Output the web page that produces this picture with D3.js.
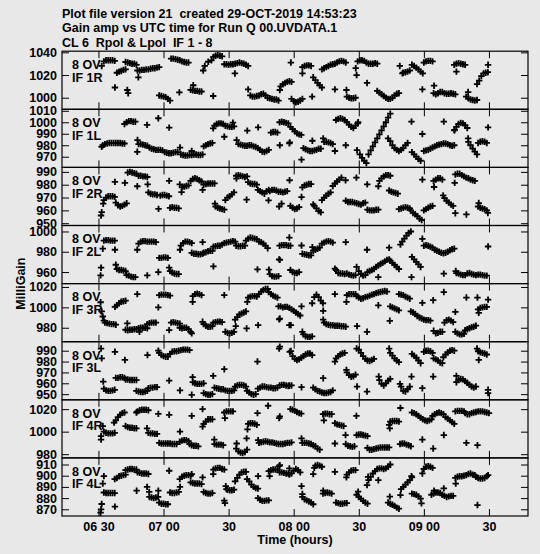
<!DOCTYPE html>
<html>
<head>
<meta charset="utf-8">
<script src="https://cdn.jsdelivr.net/npm/d3@7"></script>
<style>
  body { margin: 0; background: #e8e8e8; }
  svg { display: block; }
  text { font-family: "Liberation Sans", Arial, sans-serif; font-weight: bold; font-size: 12.5px; fill: #000; white-space: pre; }
</style>
</head>
<body>
<svg id="chart"></svg>
<script>
const titleLines = [
  'Plot file version 21  created 29-OCT-2019 14:53:23',
  'Gain amp vs UTC time for Run Q 00.UVDATA.1',
  'CL 6  Rpol & Lpol  IF 1 - 8'
];
const antenna = '8 OV';
const panelNames = ['IF 1R', 'IF 1L', 'IF 2R', 'IF 2L', 'IF 3R', 'IF 3L', 'IF 4R', 'IF 4L'];
// time in minutes after 06:00 UT
const timeDomain = [13.2, 228];
const timeTicks = [30, 60, 90, 120, 150, 180, 210];
const timeTickLabels = ['06 30', '07 00', '30', '08 00', '30', '09 00', '30'];
const yDomains = [[989.8, 1041], [960.7, 1011.3], [948.2, 993.5], [948.6, 1005.9],
                  [966.3, 1023.3], [944.8, 998.3], [976.7, 1028.3], [864, 915.9]];
const yTicks = [[1000, 1020, 1040], [970, 980, 990, 1000, 1010], [950, 960, 970, 980, 990],
                [960, 980, 1000], [980, 1000, 1020], [950, 960, 970, 980, 990],
                [980, 1000, 1020], [870, 880, 890, 900, 910]];

// [minutes after 06:00, milli gain]
const if1R = [
  [31.5,1028],[32.5,1032],[33.5,1033],[34.5,1033],[35.5,1033],[36.5,1033],[37.5,1032.5],[37.6,1009],
  [38.5,1022],[39.5,1023],[40.5,1023.5],[41.5,1024.5],[42.5,1025],
  [42.5,1031.5],[43.5,1031],[44.5,1030.5],[45.5,1030],[46.5,1030],[47.5,1029],[43.3,1006.8],[43.7,1004],
  [48,1024],[49,1024],[50,1024.5],[51,1024.5],[52,1025],[53,1025],[48.4,1018],
  [54,1025.5],[55,1026],[56,1026],[57,1026.5],[58,1027],
  [58,1002],[59,1001.5],[60,1001],[61,1000.5],[62,999],[63,997.5],[67.3,1004.7],
  [63.5,1034.5],[64.5,1034.5],[65.5,1034],[66.5,1033.5],[67.5,1033],[68.5,1032],[69.5,1031.5],[70.5,1031],[71.5,1031],
  [73.7,1011],[72.5,1007],[73.5,1006.5],[74.5,1006],[75.5,1006],[76.5,1005.5],[77.5,1005.5],[82.9,1001.5],
  [78.3,1024],[79,1028],[80.6,1031.7],[82.1,1033],[83,1036],[84,1037],[85,1037.5],[86,1037],[87,1036.5],
  [88,1029.5],[89,1029.5],[90,1029],[91,1029.5],[92,1029.5],[93,1030],[94,1030.5],[95,1031],[96,1030.5],[97,1030],[98,1029],[99,1028],
  [92.9,1021.4],[99,1007.4],
  [100,1002],[101,1001],[102,1001],[103,1001.5],[104,1002],[105,1003],[106,1003.5],[107,1002],
  [108,1000],[109,999.5],[110,999],[111,998.5],[112,998.5],[113,997.5],
  [113.6,1006.8],[114,1010],[115,1012],[116,1013],[117,1014],[118,1014.5],[119,1014],
  [119,999],[120,997],[121,996],[122,996.5],[123,997.5],[124,999],[118.7,1031],
  [124,1027],[125,1028],[126,1028.5],[127,1028.5],[128,1028],[124,1021.5],[128.5,1001],
  [129,1018],[130,1015.5],[131,1013],[132,1011],[133,1009],
  [133,1025],[134,1026],[135,1027],[136,1028],[137,1029],[138,1029.5],[139,1030],[140,1031],[141,1032],[142,1032.5],[143,1032],[144,1031],
  [139,1007.4],[144.3,1006.8],[144.5,1001],[145.5,1000],[146.5,999.5],[147.5,999.5],[148.5,1000],[148.6,1026],[149,1020],
  [149.5,1032],[150.5,1033],[151.5,1033],[152.5,1032.5],[153.5,1031],[154.5,1030],[155.5,1030],[156.5,1030],[157.5,1030.5],[158.5,1030],
  [153.8,1013],
  [158.5,1006],[159.5,1004.5],[160.5,1003],[161.5,1001.5],[162.5,1000],[163.5,999],[164.5,999],[165.5,1000],[166.5,1002],[167.5,1003.5],[168.5,1004],
  [168.9,1028],[170.1,1021.5],[170.5,1022],[171.5,1022.5],[172.5,1023],[173.5,1024],
  [174.5,1029],[175.5,1028],[176.5,1026.5],[177.5,1025],[178.5,1023],[179.5,1021.5],
  [180,1031],[181,1032],[182,1032.5],[183,1032.5],[184,1032],[179.3,1007.4],
  [184.7,1010.6],[184.5,1004],[185.5,1003],[186.5,1004],[187.5,1005],[188.5,1005],[189.5,1004],[190.5,1003.5],[191.5,1003.5],[192.5,1004],[193.5,1003.5],[194.5,1003],
  [194,1029],[195,1030],[196,1030.5],[197,1030],[198,1029.5],[199,1029],[195,1023],
  [200.4,1005],[199.5,1001],[200.5,999.5],[201.5,998.5],[202.5,998],[203.5,997.5],[204.5,998],
  [204.5,1012],[205.5,1015],[206.5,1019],[207.5,1021.5],[208.5,1022],[209.5,1022.5],[209.6,1029]
];
const if1L = [
  [31.5,978.7],[32,980],[33,981],[34,981.5],[35,982],[36,982],[37,982],[38,982],[39,982],[40,982],[41,981.5],[42,981.5],
  [42,998.5],[43,1000],[44,1001],[45,1001],[46,1000.5],[47,1000.5],[48,984.5],[47.9,974.3],
  [48.5,981],[49.5,981],[50.5,980.5],[51.5,980],[52.5,979.5],
  [53.5,978],[54.5,977],[55.5,976.5],[56.5,976],[57.5,976],[58.5,976],[59.5,975.5],
  [52.4,997.7],[57.6,1003.5],[62.6,995.3],
  [60.5,974],[61.5,973.5],[62.5,973],[63.5,973],[64.5,973.5],[65.5,974],[66.5,974],[67.6,978],
  [68,972],[69,971.5],[70,971],[71,971],[72,971.5],[73,971.5],[74,972],[75,972],[76,971.5],[77,971.5],[78,972],[73,975],
  [78.5,979],[79.5,980],[80.5,981],[81.5,981.5],[82.5,982],
  [82.9,994.7],[83.5,997],[84.5,998.5],[85.5,999],[86.5,999],[87.5,998.5],
  [88.5,997],[89.5,996.5],[90.5,996],[91.5,996],[92.5,996.5],[92,999.7],[88,987.4],
  [93.7,984.5],[94.5,981],[95.5,980.5],[96.5,980],[97.5,979.5],[98.5,979.5],[99.5,980],[100.5,980],
  [101.5,979],[102.5,978.5],[103.5,977.5],[104.5,976],[105.5,974.5],[106.5,974],[107.5,975],[108.5,976],
  [98.6,992.7],[103.6,995.6],
  [109.5,991],[110.5,991.5],[111.5,991.5],[112.5,991],[113.6,980],
  [113.5,1000],[114.5,1000.5],[115.5,1000],[116.5,999.5],[117.5,999],[118,981.6],
  [118.5,996],[119.5,994],[120.5,992],[121.5,990.5],[122.5,989.5],[123.5,989],[118.2,982.5],[123.6,967.5],
  [124.5,977.5],[125.5,976.5],[126.5,975.5],[127.5,975],[128.5,975],[129.5,975.5],[130.5,976],[131.5,977],[132.5,977],
  [128.6,983.9],[133.6,986],
  [134,983],[135,983],[136,982.5],[137,982],[138,981],[139,975],[144,980],
  [139.5,1002],[140.5,1003],[141.5,1003.5],[142.5,1003],[143.5,1002],[144.5,1000],[145.5,998],[146.5,996],[147.5,995],[148.5,997],[149.5,999],[149.7,1000],
  [149.2,975.7],[150.5,972],[151.5,969],[152.5,966.5],[153.5,964.5],
  [154.5,972],[155.5,975.5],[156.5,979],[157.5,982.5],[158.5,986],[159.5,989.5],[160.5,993],[161.5,996.5],[162.5,1000],[163.5,1004],[164.5,1007.5],
  [163.5,986],[164.5,983.5],[165.5,980],[166.5,977.5],[167.5,976],[168.5,975],[169.5,976],[170.5,977.5],[171.5,980],[172.5,982],
  [174.3,1000.6],[179.3,989.8],
  [174.5,974],[175.5,972],[176.5,970],[177.5,968],[178.5,966.5],
  [180,975],[181,975.5],[182,976],[183,977],[184,978],[185,979],[186,980],[187,980.5],[188,981],[189,981.5],[190,981.5],[191,981],[192,980],[193,979.5],[194,980],
  [189.2,1000.6],[194.2,993.3],
  [194,993],[195,996],[196,998.5],[197,999.5],[198,999],[199,997.5],[200,995],
  [200.4,986],[200.5,983],[201.5,980],[202.5,977],[203.5,974.5],[204.5,972],
  [205,982],[206,983],[207,983.5],[208,983],[209,982],[209.6,995.6]
];
const if2R = [
  [31.2,956],[31.5,958.6],[32.2,965.2],
  [32.5,968],[33.5,970],[34.5,971],[35.5,971],[36.5,971],[37.5,970.5],
  [38,966],[39,964],[40,963],[41,963.5],[42,964.5],[43,965.5],[37.6,982.2],[42.2,981.4],
  [43.5,989.5],[44.5,990],[45.5,989.5],[46.5,989],[47.5,988.5],[47.9,978.8],
  [48.5,987],[49.5,987],[50.5,986.5],[51.5,986.5],[52.5,986],[52.7,980.3],
  [53,974],[54,973],[55,972.5],[56,972.5],[57,972],[57.7,961.2],
  [58.5,971.5],[59.5,972],[60.5,972],[61.5,971.5],[62.5,971],[62.6,983],
  [63,962],[64,962.5],[65,962],[66,962],[67,961.5],
  [68.3,974.3],[67.5,980.3],[68.5,978],[69.5,978.5],[70.5,979],[71.5,979.5],
  [72.5,983],[73.5,984.5],[74.5,985],[75.5,984.5],[76.5,983.5],[77.5,982.5],
  [78.5,980],[79.5,980.5],[80.5,981],[81.5,981],[82.5,981],[83.5,981],[78,976],
  [83.7,965.2],[84,963],[85,962],[86,961.5],[87,961],[88,960.5],
  [88.5,968],[89.5,970],[90.5,971],[91.5,972.5],[92.5,974],
  [93.6,984.8],[93.5,987],[94.5,987.5],[95.5,987],[96.5,986.5],[97.5,986],[98.5,986.5],[98.3,968.3],
  [99,982],[100,981],[101,980.5],[102,980.5],[103,980],
  [103.5,976],[104.5,975],[105.5,974],[106.5,973],[107.5,975],[108.5,976],[108.4,967.8],[113.3,963],
  [109,975],[110,976],[111,976],[112,975.5],[113,974.5],[114,974.5],[115,974],[116,974.5],[117,975],
  [118.1,983.5],[114.4,965.2],
  [118.5,963.5],[119.5,962],[120.5,961],[121.5,961.5],[122.5,962.5],
  [123.6,970.4],[124,978],[125,979.5],[126,980],[127,980.5],[128,980.5],
  [129,964.6],[129.5,963.5],[130.5,961.5],[131.5,959.5],[132.5,958.5],
  [133,968],[134,970],[135,971.5],[136,973],[137,974],
  [138,979],[139,981],[140,982.5],[141,984],[142,985.5],[143.9,983.5],[148.9,985.5],
  [144,967.5],[145,966.5],[146,966.5],[147,966.5],[148,966],[149,965.5],[150,965],[151,964.5],[152,965.5],[153,966],
  [153.9,980.3],
  [154,960.5],[155,960],[156,960],[157,960],[158,960.5],[159,960.5],[159,978.8],
  [159.5,983],[160.5,985],[161.5,986.5],[162.5,987.5],[163.5,987.5],[164.5,987],
  [164,975.5],[165,974.5],[166,974],[167,973.5],[168,973],
  [168.5,961],[169.5,961.5],[170.5,962],[171.5,962.5],[172.5,962],[173.5,961.5],
  [174,960],[175,958],[176,957],[177,955.5],[178,953.5],[179,952.5],[179.3,984],
  [180,960],[181,961],[182,962],[183,963],[184,963.5],
  [184.7,978.2],[184.5,983],[185.5,984],[186.5,985],[187.5,985],[188.5,984],
  [188.9,971.7],[189.5,969.5],[190.5,967.5],[191.5,966],[192.5,964.5],[193.5,963.5],
  [194.5,957.8],[199.6,956.8],[194.2,981.4],
  [194.5,988],[195.5,988.5],[196.5,988.5],[197.5,987.5],[198.5,986.5],[199.5,985.5],[200.5,985],[201.5,984],[202.5,983.5],[203.5,983],
  [205.3,965.7],[205,963],[206,962],[207,961.5],[208,961],[209,960],[209.5,958]
];
const if2L = [
  [31.2,964.3],[31,956.7],[32,983],
  [32.5,991],[33.5,991.5],[34.5,991.5],[35.5,991],[36.5,991],[37.5,991],[37.6,982],[38,967.2],
  [38.5,963],[39.5,962],[40.5,962],[41.5,961.5],[42.5,961],
  [43,957],[44,956.5],[45,955.5],[46,955],[47,955],[47.9,982],
  [48.5,988],[49.5,990],[50.5,990.5],[51.5,990.5],[52.5,990],[53.5,990],[54.5,990],[55.5,990],[56.5,989.5],[52.5,956.7],
  [58,974],[59,974],[60,974.5],[61,974.5],[62,974],[57.6,960],[62.6,964.3],
  [63,961],[64,959.5],[65,958.5],[66,958],[67,958],[67.6,982],
  [68,986],[69,988.5],[70,990],[71,990],[72,989.5],[73,988.5],[78,989.5],
  [73,979],[74,978],[75,978],[76,977.5],[77,977.5],[78,978],[83,965.6],
  [78.5,979],[79.5,979.5],[80.5,980.5],[81.5,981],[82.5,981],
  [83,985],[84,985.5],[85,986],[86,986],[87,987],
  [88,988.5],[89,989],[90,989.5],[91,990],[92,990.5],[93,990],
  [93.5,986],[94.5,985.5],[95.5,985.5],[96.5,986],[97.5,986],
  [98,991],[99,993],[100,994],[101,993.5],[102,993],[103,992.5],[103.3,962.6],
  [104,990],[105,989.5],[106,988],[107,986],[108,983.5],[108.6,962.3],[113.3,972.5],
  [109,958],[110,956],[111,955.5],[112,955.5],[113,956],
  [113.5,986],[114.5,986.5],[115.5,986.5],[116.5,986.5],[117.5,986],[118.5,986],[118,994],[113.6,972],
  [118.5,962],[119.5,960],[120.5,959],[121.5,959],[122.5,960],[123.6,986.2],
  [124,978],[125,977.5],[126,977],[127,976.5],[128,976.5],[128.6,984.6],
  [129,981],[130,982],[131,983],[132,984],
  [133,988],[134,989],[135,990],[136,990.5],[137,990],[138,989],[144,989.5],
  [139,963.3],[139.5,962],[140.5,959],[141.5,958.5],[142.5,958.5],[143.5,958],[144.5,958.5],[145.5,957.5],[146.5,957],[147.5,956.5],[148.5,957],
  [153.8,982],[159,955],
  [149,965],[150,961],[151,958],[152,956.5],[153,957],[154,960],[155,961],[156,962],[157,963],[158,965],[159,966.5],[160,968],[161,969],[162,970.5],[163,972],[164,972.5],
  [164,984],
  [164.5,971],[165.5,969],[166.5,967],[167.5,965],[168.5,963],
  [169.2,987],[170,990],[171,993],[172,996],[173,998.5],[174,1000],[174.3,955],
  [174.5,975],[175.5,972.5],[176.5,970],[177.5,967.5],[178.5,965],[179.3,992.8],
  [180,986],[181,986.5],[182,986],[183,985],[184,984],[185,982],[186,981],[187,980],[188,979],[189,978.5],[190,979],[191,980],[192,981.5],[193,982.5],[194,983],
  [189.2,958.4],[194.7,961],
  [195,959],[196,958.5],[197,957.5],[198,957],[199,957],[200,958.5],[201,959],[202,958],[203,957.5],[204,957],[205,957.5],[206,957.5],[207,957],[208,956.5],[209,956.5],
  [209.6,985.2]
];
const if3R = [
  [31,1005],[31.5,996],[32,991],[32.5,987],[33,985],[34,984.5],[35,984],[36,983.5],[37,983.5],[38,983],
  [37.6,1000.5],[38.5,1002],[39.5,1004],[40.5,1005.5],[41.5,1006],[42.5,1006.5],[43.3,984.2],
  [42.5,978],[43.5,977.5],[44.5,978],[45.5,978],[46.5,978.5],[47.5,978.5],[47.9,1013],
  [48.5,979.5],[49.5,980],[50.5,980],[51.5,980],[52.5,979.5],[48.9,976],
  [52.5,983.5],[53.5,984.5],[54.5,985],[55.5,985],[56.5,985],[57.6,1000],
  [58,1012],[59,1012.5],[60,1012.5],[61,1012.5],[62,1012],[63,1011.5],[62.6,977.7],
  [63.5,985],[64.5,985.5],[65.5,985],[66.5,984.5],[67.5,984],
  [67.5,980],[68.5,979.5],[69.5,980],[70.5,980],[71.5,978.5],[72.5,976],[73,974.5],
  [73.4,1005.4],[73.5,1011],[74.5,1013],[75.5,1013.5],[76.5,1013],[77.5,1012],[78,985.8],
  [78.5,983.5],[79.5,982],[80.5,981],[81.5,981],[82.5,981.5],
  [83,985],[84,985.5],[85,986],[86,986],[87,985.5],[88,1012],
  [88.5,976],[89.5,975],[90.5,974.5],[91.5,975],[92.5,976],
  [93.3,981.6],[93,988],[94,990.5],[95,993],[96,994],[97,995],[98,996],[98.3,979.3],
  [98.6,1005.4],[99,1009.5],[100,1010.5],[101,1011],[102,1011],[103,1010.5],[103.6,982.6],
  [104,1013],[105,1015.5],[106,1017],[107,1018],[108,1018],
  [108.5,1015],[109.5,1013],[110.5,1011.5],[111.5,1010.5],[112.5,1009.5],[113.3,988.2],
  [113,1001],[114,1001],[115,1000],[116,1000.5],[117,1000.5],[118,999.5],[118,982.6],[113.6,989],
  [119,998],[120,996.5],[121,995],[122,993.5],[123,992],[118.7,982.6],[123.6,1001],[124,976],
  [124.5,973.5],[125.5,971.5],[126.5,971],[127.5,971],[128.5,971.5],
  [128.5,1004],[129.5,1010],[130.5,1012.5],[131.5,1010],[132.5,1006.5],[133.5,1004],
  [133.6,996.6],[133.6,988],
  [134,985],[135,983.5],[136,983],[137,982.5],[138,982.5],[139,982],[140,982],[141,982],[142,981.5],[143,981.5],[144,981],
  [139,1013],[149.2,981.6],[153.8,976],
  [144.3,1005.4],[144.5,1012],[145.5,1013],[146.5,1013],[147.5,1013],[148.5,1013],
  [149,1011],[150,1009.5],[151,1008.5],[152,1009],[153,1010],[154,1010.5],[155,1011.5],[156,1012.5],[157,1013],[158,1014],[159,1014.5],[160,1015],[161,1015.5],[162,1016],[163,1015.5],
  [159,1002],[164.3,986.8],
  [164.5,1001],[165.5,1000],[166.5,999],[167.5,998],[168.5,997],
  [168.5,1013],[169.5,1012.5],[170.5,1012],[171.5,1010.5],[172.5,1009.5],[173.5,1008.5],
  [179.3,1004.4],[184.3,1007],
  [174,996],[175,995],[176,993.5],[177,991.5],[178,990],[179,989],[180,988],[181,987.5],[182,987.5],[183,987],
  [189.2,1015],
  [184.5,977],[185.5,974.5],[186.5,975],[187.5,976],[188.5,976],
  [189.5,985],[190.5,987.5],[191.5,988],[192.5,987],[193.5,985.5],
  [194.5,995.6],[199.6,1009.6],[204.7,1009.6],[209.6,1007.6],
  [194.5,976],[195.5,974.5],[196.5,973.5],[197.5,973.5],[198.5,974],
  [199,977.5],[200,978.5],[201,979.5],[202,980.5],[203,981],[204,982],
  [205.3,994.6],[205,998],[206,999.5],[207,1000],[208,1000.5],[209,1000.5]
];
const if3L = [
  [31.2,992],[31.5,983],[32.2,961.6],
  [32.5,955],[33.5,953.5],[34.5,953],[35.5,953],[36.5,953.5],[37.5,954],[37.6,989],[42.2,981.5],
  [38,965],[39,965],[40,965.5],[41,965.5],[42,965],
  [42.5,963.5],[43.5,963.5],[44.5,963],[45.5,963],[46.5,963],[47.5,963],[52.6,986],
  [47.5,953],[48.5,952.5],[49.5,952],[50.5,952],[51.5,952.5],[52.5,953],
  [53,955.5],[54,956],[55,956],[56,956.5],[57,956.5],[57.6,990],
  [58,988],[59,986],[60,985],[61,984.5],[62,984.5],[62.6,962.5],
  [63,987],[64,989],[65,989.5],[66,989.5],[67,990],[68,990.5],[69,991],[70,991],[71,991],[72,990.5],
  [67.6,953.4],[73.4,965.6],[73,949.4],
  [73.5,961],[74.5,960],[75.5,959.5],[76.5,959.5],[77.5,959.5],[78.5,960],
  [78.5,951],[79.5,950],[80.5,949.5],[81.5,949.5],[82.5,950],[82.9,966.8],[88,973],
  [83.5,956],[84.5,955.5],[85.5,955],[86.5,954.5],[87.5,954.5],
  [88.5,953.5],[89.5,953],[90.5,953],[91.5,953],[92.5,953.5],
  [93,957],[94,958],[95,958.5],[96,958.5],[97,958],[98,957],[103.3,980],
  [98.5,953],[99.5,951.5],[100.5,950],[101.5,949.5],[102.5,950],
  [103.5,955],[104.5,956],[105.5,957],[106.5,957],[107.5,956.5],[108.5,956],[109.5,956],[110.5,955.5],[111.5,955.5],[112.5,956],
  [113.3,992],[118.2,989],
  [113.5,958],[114.5,958.5],[115.5,958.5],[116.5,958],[117.5,957.5],[118,958],[119,958],
  [113.6,993.7],[118.7,989.7],
  [119.5,985],[120.5,982.5],[121.5,981.5],[122.5,982],[123.5,983.5],[124.5,985],[125.5,986.5],[126.5,987.5],[127.5,987.5],[128.5,986],
  [123.6,956.4],[133.6,964.7],
  [129,956],[130,954.5],[131,953],[132,952.5],[133,951.5],[134,951],[135,951],[136,951.5],[137,952],[138,953.5],
  [139,980],[139.5,983],[140.5,985],[141.5,986.5],[142.5,987.5],[143.5,988],
  [144.3,972.3],[144.5,970],[145.5,967.5],[146.5,966],[147.5,966.5],[148.5,968],
  [149.2,957],[153.8,952.4],
  [149,992],[150,991],[151,988],[152,985],[153,982.5],[154,981],[155,980.5],[156,981.5],[157,982.5],
  [159.2,966.2],[159.5,963],[160.5,959.5],[161.5,958],[162.5,960],[163.5,962.5],[164.5,964],
  [164,992],[164.5,988],[165.5,985.5],[166.5,983],[167.5,981],[168.5,979.5],
  [169,959.5],[169.5,957],[170.5,953],[171.5,952.5],[172.5,954.5],[173.5,957],[174.3,966.2],
  [174.5,987],[175.5,985.5],[176.5,983.5],[177.5,981],[178.5,978.5],[179.3,955.5],
  [180,989],[181,990],[182,990],[183,989.5],[184,988],[184.3,966.2],
  [184.5,983],[185.5,982],[186.5,981],[187.5,979],[188.5,978.5],
  [189,984],[190,986.5],[191,988.5],[192,990],[193,990.5],[194,990],
  [195,966.8],[195,961],[196,963],[197,964],[198,963.5],[199,962],[200,960.5],[201,958.5],[202,957],[203,956],[204,957],
  [204.5,992],[205,989.5],[206,988.5],[207,988],[208,987.5],[209,986.5],[205.3,981.5],
  [209.6,954],[209.6,951]
];
const if4R = [
  [31.2,993],[31.2,996],[32,1005],
  [32.5,1000],[33.5,999],[34.5,998.5],[35.5,998.5],[36.5,998.5],[37.5,999],[37.2,1008],
  [38,1010],[39,1013],[40,1015],[41,1016.5],[42,1017],
  [42.5,1005],[43.5,1004],[44.5,1003.5],[45.5,1003.5],[46.5,1003],[47.5,1003],
  [47.5,1017],[48,1018],[49,1019],[50,1019.5],[51,1019.5],[52,1019.5],[53,1019],[52.4,1003],
  [53,999],[54,998.5],[55,998.5],[56,998],[57,998],[57.6,1015.8],[62.6,1015],
  [58,990],[59,989.5],[60,989.5],[61,989.5],[62,989.5],[63,989.5],[64,989],[65,989],[66,989],[67.6,1000],
  [67.5,991],[68.5,992],[69.5,992.5],[70.5,992.5],[71.5,991.5],
  [72,989],[73,988],[74,987.5],[75,987.5],[76,987],[73,1014],[78,1020],
  [78,1004.5],[78.5,1007],[79.5,1009],[80.5,1011],[81.5,1011],[82.5,1011],[83.4,993],
  [83.5,989],[84.5,988.5],[85.5,988.5],[86.5,988.5],[87.5,988],
  [88.3,1012],[88,1017],[89,1018],[90,1018],[91,1018],[92,1018],[93.7,989.5],
  [93.5,985],[94.5,982.5],[95.5,981.5],[96.5,981],[97.5,982],[98.5,984],[98.3,994],
  [98.7,1002],[99,1007],[100,1007.5],[101,1007.5],[102,1007],[103,1006],[103.3,1016.5],[103.6,992.5],
  [104,990],[105,990.5],[106,991],[107,991.5],[108,991],[109,990.5],[110,990.5],[111,990],[112,989.5],[113,989],[114,989],[115,989],[116,989.5],[117,990],[118,990],[119,990.5],
  [108.2,1023],[113.3,1012],[113.6,1013.5],
  [118.5,1020],[119.5,1019.5],[120.5,1018.5],[121.5,1017.5],[122.5,1016.5],[123.5,1016],[123.6,994],
  [124,990],[125,990],[126,990],[127,989.5],[128,989],[129,988],[130,987],[131,985],[132,984],
  [133.9,1010],[133.5,1015.5],[134.5,1016],[135.5,1016],[136.5,1015.5],[137.5,1015.5],
  [139,1007.5],[140,1006.5],[141,1006],[142,1005.5],[143,1005],[139,989.5],[143.9,997],
  [144,989],[145,987.5],[146,987],[147,986.5],[148,987],[148.9,1014],
  [149,997],[150,997.5],[151,997.5],[152,997],[153,996.5],[154,996],
  [154,985.5],[155,984],[156,984],[157,984.5],[158,985],[159,985.5],[160,986],[161,986],[162,986],[163,986],[164,986],
  [164,1006],[164.3,1003],[164.5,1009],[165.5,1009.5],[166.5,1009.5],[167.5,1009.5],[168.5,1009],[169.2,1021],
  [169,989],[170,989.5],[171,989.5],[172,988.5],[173,988],[174,987],[179.3,993],[184.3,985],
  [174.5,1017],[175.5,1016.5],[176.5,1015.5],[177.5,1014],[178.5,1012.5],[179.5,1011],[180.5,1010],[181.5,1009.5],[182.5,1010],[183.5,1011],
  [184,1014],[185,1015.5],[186,1016.5],[187,1017],[188,1016.5],[189,1015.5],[189.2,997],
  [190,1013],[191,1011.5],[192,1010],[193,1008.5],[194,1007],
  [194.5,1018],[195.5,1018.5],[196.5,1018.5],[197.5,1018.5],[198.5,1018],[199.6,990],
  [199,1016.5],[200,1015.5],[201,1015.5],[202,1016.5],[203,1017],[204,1017.5],[205,1018],[206,1018],[207,1018],[208,1017.5],[209,1017],[210,1016.5],
  [204.7,988]
];
const if4L = [
  [31,867],[31.2,870],[31.5,874.7],[32.5,899.6],[32,893],
  [32.5,885],[33.5,884.5],[34.5,884.5],[35.5,884.5],[36.5,884.5],[37.5,884.5],[37.6,872.4],
  [37.5,897],[38.5,898],[39.5,899.5],[40.5,900],[41.5,900.5],[42.5,901],
  [42.5,905],[43.5,905.5],[44.5,906],[45.5,906],[46.5,905.5],[47.5,905.5],[47.6,886.6],
  [48,903],[49,902.5],[50,902],[51,902],[52,902],[53,901.5],
  [52.4,890],[53.4,885.5],[57.6,886.6],
  [53.5,881],[54.5,880.5],[55.5,880],[56.5,880.5],[57.5,881],
  [58,876],[59,875],[60,875],[61,874.5],[62,874.5],[62.6,904.4],[67.6,890],
  [63,885],[64,884.5],[65,884.5],[66,885],[67,885.5],
  [67.5,897],[68.5,899],[69.5,900],[70.5,900.5],[71.5,900.5],[72.5,900],[73,901.4],[78,898.5],
  [72.5,894],[73.5,893.5],[74.5,893],[75.5,893],[76.5,893],[77.5,892.5],
  [78.5,885.5],[79.5,884.5],[80.5,884],[81.5,884],[82.5,884.5],
  [82.9,901.4],[83,905.5],[84,906.5],[85,907],[86,907],[87,906],[88,905.5],
  [88,877.7],[88.3,875.5],[88.7,890.7],
  [89,888],[89.5,887.5],[90.5,887],[91.5,887],[92.5,887.5],
  [93,895],[94,898],[95,901],[96,903],[97,903.5],[98,903.5],
  [98.5,897],[99.5,895],[100.5,892],[101.5,890],[102.5,889],[103.5,888.5],
  [103.6,899.6],[108.9,899.6],
  [103.5,880],[104.5,878.5],[105.5,877.5],[106.5,877.5],[107.5,878],[108.5,878],
  [108.5,904],[109.5,905],[110.5,905.5],[111.5,905.5],[112.5,905.5],[113.3,908.5],[118,906.5],
  [113.5,903],[114.5,903],[115.5,902.5],[116.5,902],[117.5,902],[113.6,909.4],
  [118,901],[119,902],[120,904.5],[121,906],[122,905],[123,903],
  [123.6,890.7],[124,883.6],
  [124,881],[125,879],[126,878],[127,877],[128,876],[129,874.5],
  [129,901.4],[129.5,907],[130,909],[131,909.5],[132,909],[133,908],[133.6,886.6],
  [133.5,884],[134.5,884.5],[135.5,885],[136.5,884.5],[137.5,884],[139,903.5],
  [139.5,876],[140.5,875.5],[141.5,875],[142.5,875],[143.5,875.5],[144.5,875.5],
  [144.3,898.5],[144.5,901],[145.5,903],[146.5,904.5],[147.5,905],[148.5,905],[149.7,885.7],
  [149,883],[150,881],[151,879.5],[152,877.5],[153,876],[154,875],
  [153.8,891.6],[154.3,899],
  [154.5,896],[155.5,899],[156.5,902],[157.5,904],[158.5,906],[159.5,906.5],[160.5,906.5],[161.5,906],[162.5,906.5],[163.5,908],[164.5,910],
  [159,896],[164.3,881.3],
  [163.5,876],[164.5,875],[165.5,874],[166.5,873],[167.5,871.5],[168.5,870.5],[169.2,882.7],
  [169.5,888],[170.5,890],[171.5,892],[172.5,894],[173.5,896],[174.5,898.5],[174.3,899.6],
  [174.5,884],[175.5,883.5],[176.5,883],[177.5,881.5],[178.5,879.5],[178.9,875.3],
  [179.3,902],[180,906],[181,908],[182,908.5],[183,908],[184,907],
  [184.7,886.6],[189.2,888.7],
  [183.5,883],[184.5,884],[185.5,885],[186.5,885],[187.5,884.5],[188.5,883],[189.5,882],[190.5,881],[191.5,881.5],[192.5,882],[193.5,882],
  [194.7,893],[194.5,898],[195.5,899],[196.5,899.5],[197.5,899.5],[198.5,900],[199.5,900.5],[200.5,901.5],[201.5,902],[202.5,901],[203.5,900.5],
  [204,899],[205,898],[206,897.5],[207,897.5],[208,898],[209,899.5],[209.6,900.5],
  [204.7,873.8]
];
const panelData = [if1R, if1L, if2R, if2L, if3R, if3L, if4R, if4L];

const W = 540, H = 554;
const left = 62, right = 528, top0 = 51.2, ph = 58.1;

const svg = d3.select('#chart').attr('width', W).attr('height', H);

svg.selectAll('text.title')
  .data(titleLines)
  .join('text')
  .attr('class', 'title')
  .attr('x', left)
  .attr('y', (d, i) => 18 + i * 14.3)
  .text(d => d);

const x = d3.scaleLinear().domain(timeDomain).range([left, right]);
const plus = 'M-3.2,0H3.2M0,-3.2V3.2';

panelData.forEach((pts, i) => {
  const y0 = top0 + i * ph;
  const y = d3.scaleLinear().domain(yDomains[i]).range([y0 + ph, y0]);
  const g = svg.append('g');

  g.append('rect')
    .attr('x', left).attr('y', y0)
    .attr('width', right - left).attr('height', ph)
    .attr('fill', 'none').attr('stroke', '#000').attr('stroke-width', 1.2);

  const yl = g.append('g')
    .attr('transform', `translate(${left},0)`)
    .call(d3.axisLeft(y).tickValues(yTicks[i]).tickSize(-7).tickPadding(5).tickFormat(d3.format('d')));
  yl.select('.domain').remove();

  const yr = g.append('g')
    .attr('transform', `translate(${right},0)`)
    .call(d3.axisRight(y).tickValues(yTicks[i]).tickSize(-7).tickFormat(''));
  yr.select('.domain').remove();

  const xt = g.append('g')
    .attr('transform', `translate(0,${y0})`)
    .call(d3.axisTop(x).tickValues(timeTicks).tickSize(-7).tickFormat(''));
  xt.select('.domain').remove();

  const last = i === panelData.length - 1;
  const xb = g.append('g')
    .attr('transform', `translate(0,${y0 + ph})`)
    .call(d3.axisBottom(x).tickValues(timeTicks).tickSize(-7).tickPadding(6)
      .tickFormat((d, k) => last ? timeTickLabels[k] : ''));
  xb.select('.domain').remove();

  g.selectAll('.tick line').attr('stroke', '#000');

  g.append('g')
    .selectAll('path')
    .data(pts)
    .join('path')
    .attr('d', plus)
    .attr('transform', d => `translate(${x(d[0])},${y(d[1])})`)
    .attr('stroke', '#000')
    .attr('stroke-width', 1.8)
    .attr('fill', 'none');

  g.append('text').attr('x', 72).attr('y', y0 + 17.8).text(antenna);
  g.append('text').attr('x', 72).attr('y', y0 + 30.5).text(panelNames[i]);
});

svg.append('text')
  .attr('x', (left + right) / 2)
  .attr('y', 544)
  .attr('text-anchor', 'middle')
  .text('Time (hours)');

svg.append('text')
  .attr('transform', `translate(25,${top0 + 4 * ph}) rotate(-90)`)
  .attr('text-anchor', 'middle')
  .text('MilliGain');
</script>
</body>
</html>
